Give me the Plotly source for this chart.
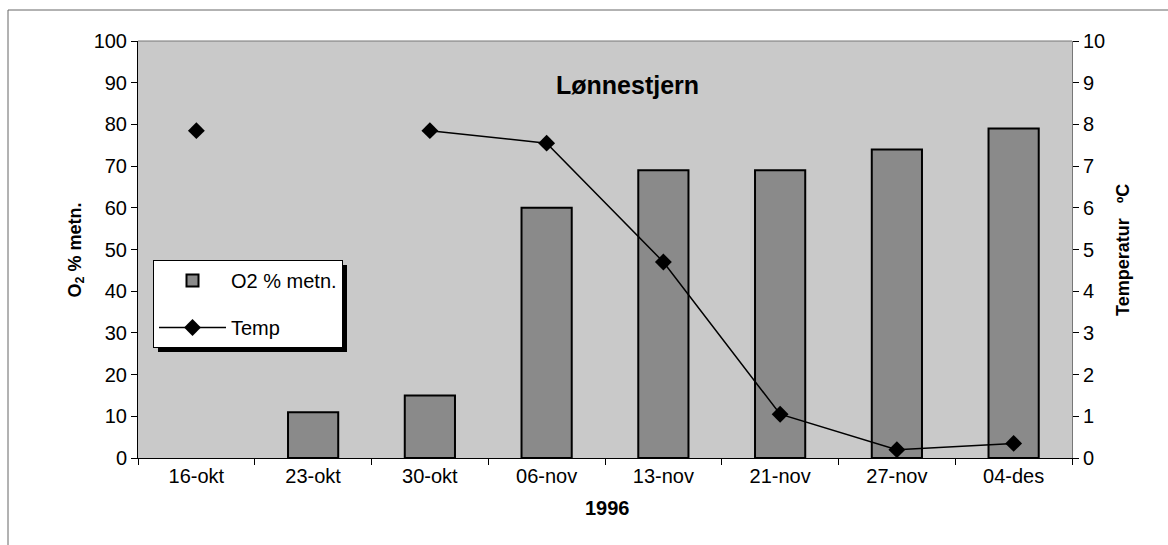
import plotly.graph_objects as go

categories = ["16-okt", "23-okt", "30-okt", "06-nov", "13-nov", "21-nov", "27-nov", "04-des"]
o2_values = [None, 11, 15, 60, 69, 69, 74, 79]
temp_values = [7.85, None, 7.85, 7.55, 4.7, 1.05, 0.2, 0.35]
y_ticks = [0, 10, 20, 30, 40, 50, 60, 70, 80, 90, 100]
y2_ticks = [0, 1, 2, 3, 4, 5, 6, 7, 8, 9, 10]

W, H = 1168, 545
L, R, T, B = 138, 96, 41, 87
pw, ph = W - L - R, H - T - B

def px(x):
    return (x - L) / pw

def py(y):
    return (H - B - y) / ph

FONT = "Liberation Sans, Arial, sans-serif"

fig = go.Figure()
fig.add_trace(go.Bar(
    x=categories, y=o2_values, name="O2 % metn.",
    marker=dict(color="#8a8a8a", line=dict(color="black", width=2)),
    legendgroup="a",
))
fig.add_trace(go.Scatter(
    x=categories, y=temp_values, name="Temp", yaxis="y2",
    mode="lines+markers", connectgaps=False,
    line=dict(color="black", width=1.5),
    marker=dict(symbol="diamond", size=13, color="black"),
    legendgroup="b",
))

fig.update_layout(
    width=W, height=H,
    margin=dict(l=L, r=R, t=T, b=B),
    paper_bgcolor="white",
    plot_bgcolor="#c9c9c9",
    font=dict(family=FONT, size=21, color="black"),
    bargap=0.57,
    showlegend=True,
    legend=dict(
        x=px(153), y=py(260), xanchor="left", yanchor="top",
        bgcolor="white", bordercolor="black", borderwidth=1,
        font=dict(size=20, family=FONT), tracegroupgap=18,
        itemwidth=67,
    ),
    xaxis=dict(
        type="category", tickson="boundaries", ticks="outside", ticklen=6,
        tickcolor="black", showline=True, linecolor="black", linewidth=1,
        showgrid=False, tickfont=dict(size=20), range=[-0.5, 7.5],
    ),
    yaxis=dict(
        range=[0, 100], tickvals=y_ticks, ticks="outside", ticklen=6,
        tickcolor="black", showline=True, linecolor="black", linewidth=1,
        showgrid=False, zeroline=False, tickfont=dict(size=20),
    ),
    yaxis2=dict(
        range=[0, 10], tickvals=y2_ticks, overlaying="y", side="right",
        ticks="outside", ticklen=6, tickcolor="black", showline=True,
        linecolor="#777777", linewidth=1, showgrid=False, zeroline=False,
        tickfont=dict(size=20),
    ),
)

# top border of plot area
fig.add_shape(type="line", xref="paper", yref="paper", x0=0, x1=1, y0=1, y1=1,
              line=dict(color="#777777", width=1))
# outer frame (top and left)
fig.add_shape(type="line", xref="paper", yref="paper", x0=px(8), x1=px(1168), y0=py(10), y1=py(10),
              line=dict(color="#666666", width=1))
fig.add_shape(type="line", xref="paper", yref="paper", x0=px(8), x1=px(8), y0=py(10), y1=py(545),
              line=dict(color="#666666", width=1))
# legend shadow
fig.add_shape(type="rect", xref="paper", yref="paper", x0=px(158), x1=px(347), y0=py(265), y1=py(352),
              line=dict(width=0), fillcolor="black", layer="below")

fig.add_annotation(text="<b>Lønnestjern</b>", xref="paper", yref="paper",
                   x=px(627), y=py(69), showarrow=False, font=dict(size=25))
fig.add_annotation(text="<b>1996</b>", xref="paper", yref="paper",
                   x=px(607), y=py(521), showarrow=False, font=dict(size=20))
fig.add_annotation(text="<b>O<sub>2</sub> % metn.</b>", xref="paper", yref="paper",
                   x=px(62), y=py(250), showarrow=False, textangle=-90, font=dict(size=18))
fig.add_annotation(text="<b>Temperatur   ºC</b>", xref="paper", yref="paper",
                   x=px(1135), y=py(250), showarrow=False, textangle=-90, font=dict(size=18))

fig.write_html("out.html", config={"displayModeBar": False},
               post_script="document.body.style.margin='0';document.body.style.overflow='hidden';")
